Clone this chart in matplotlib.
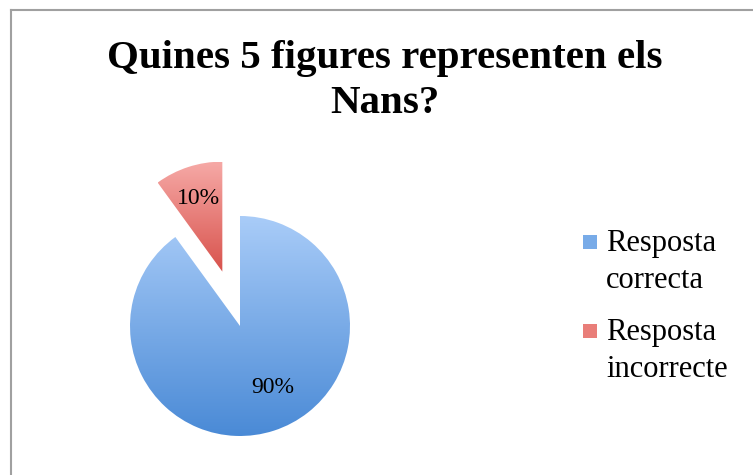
import matplotlib
matplotlib.use('Agg')
import numpy as np
import matplotlib.pyplot as plt
from matplotlib.colors import LinearSegmentedColormap
from matplotlib.patches import Rectangle
from matplotlib.lines import Line2D

# ── Data ──────────────────────────────────────────
categories = ['Resposta\ncorrecta', 'Resposta\nincorrecte']
values = [90, 10]
explode = [0, 0.52]   # fraction of radius

# gradient colours (top, bottom) per slice
grad_top = ['#A9CCF8', '#F6A9A6']
grad_bot = ['#4A8AD6', '#D8524C']
mid_col = ['#78ABE8', '#E97E79']

title = 'Quines 5 figures representen els\nNans?'
SERIF = 'Liberation Serif'

W, H = 753, 475
fig = plt.figure(figsize=(W / 100, H / 100), dpi=100)
ax = fig.add_axes([0, 0, 1, 1])

# ── Pie ───────────────────────────────────────────
cx, cy, r = 240, H - 326, 110
wedges, texts, autotexts = ax.pie(
    values, explode=[e * r for e in explode], startangle=90, counterclock=False,
    colors=mid_col, radius=r, center=(cx, cy),
    autopct='%1.0f%%', pctdistance=0.7,
    wedgeprops=dict(linewidth=0),
    textprops=dict(fontsize=17, family=SERIF, color='black'))

for t in texts:
    t.set_text('')

# gradient fill clipped to each wedge
grad = np.linspace(0, 1, 256).reshape(-1, 1)
for i, w in enumerate(wedges):
    bb = w.get_path().get_extents()
    cmap = LinearSegmentedColormap.from_list('g%d' % i, [grad_bot[i], grad_top[i]])
    im = ax.imshow(grad, cmap=cmap, origin='lower', aspect='auto',
                   extent=[bb.x0, bb.x1, bb.y0, bb.y1], zorder=w.get_zorder() + 0.1)
    im.set_clip_path(w)
    w.set_facecolor('none')

for t in autotexts:
    t.set_zorder(5)

# nudge the big slice label like the original
ang = np.deg2rad(-62)
autotexts[0].set_position((cx + 0.63 * r * np.cos(ang), cy + 0.63 * r * np.sin(ang)))

ax.set_xlim(0, W)
ax.set_ylim(0, H)
ax.set_aspect('equal')
ax.axis('off')

# ── Title (baseline = last line) ──────────────────
fig.text(385 / W, 1 - 113 / H, title, ha='center', va='baseline', fontsize=29.5,
         fontweight='bold', family=SERIF, linespacing=1.3, multialignment='center')

# ── Legend (manual) ───────────────────────────────
sq_mid = [242, 331]       # square centres (px from top)
last_base = [288, 377]    # baseline of second label line
for i, lbl in enumerate(categories):
    ax.add_patch(Rectangle((583, H - sq_mid[i] - 7), 14, 14, facecolor=mid_col[i],
                           edgecolor='none', zorder=5))
    ax.text(606, H - last_base[i], lbl, ha='left', va='baseline', fontsize=22,
            family=SERIF, linespacing=1.36, zorder=5)

# ── Chart border (only top and left visible) ─────
fig.add_artist(Line2D([11 / W, 1], [1 - 10 / H, 1 - 10 / H], color='#A0A0A0', lw=1.5))
fig.add_artist(Line2D([11 / W, 11 / W], [1 - 10 / H, 0], color='#A0A0A0', lw=1.5))

fig.savefig('out.png', dpi=100, facecolor='white')
